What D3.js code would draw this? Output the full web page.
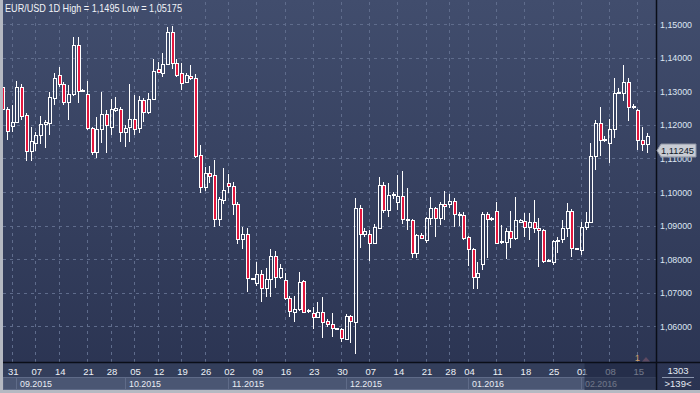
<!DOCTYPE html>
<html><head><meta charset="utf-8">
<script src="https://cdn.jsdelivr.net/npm/d3@7"></script>
<style>body{margin:0;background:#333d5a;}svg{display:block;}text{font-family:"Liberation Sans",Arial,sans-serif;}</style>
</head><body><svg id="c" width="700" height="393"></svg>
<script>
const title = "EUR/USD 1D High = 1,1495 Low = 1,05175";
const dates = ["2015-08-27","2015-08-28","2015-08-31","2015-09-01","2015-09-02","2015-09-03","2015-09-04","2015-09-07","2015-09-08","2015-09-09","2015-09-10","2015-09-11","2015-09-14","2015-09-15","2015-09-16","2015-09-17","2015-09-18","2015-09-20","2015-09-21","2015-09-22","2015-09-23","2015-09-24","2015-09-25","2015-09-28","2015-09-29","2015-09-30","2015-10-01","2015-10-02","2015-10-05","2015-10-06","2015-10-07","2015-10-08","2015-10-09","2015-10-12","2015-10-13","2015-10-14","2015-10-15","2015-10-16","2015-10-19","2015-10-20","2015-10-21","2015-10-22","2015-10-23","2015-10-26","2015-10-27","2015-10-28","2015-10-29","2015-10-30","2015-11-02","2015-11-03","2015-11-04","2015-11-05","2015-11-06","2015-11-08","2015-11-09","2015-11-10","2015-11-11","2015-11-12","2015-11-13","2015-11-15","2015-11-16","2015-11-17","2015-11-18","2015-11-19","2015-11-20","2015-11-22","2015-11-23","2015-11-24","2015-11-25","2015-11-26","2015-11-27","2015-11-29","2015-11-30","2015-12-01","2015-12-02","2015-12-03","2015-12-04","2015-12-06","2015-12-07","2015-12-08","2015-12-09","2015-12-10","2015-12-11","2015-12-13","2015-12-14","2015-12-15","2015-12-16","2015-12-17","2015-12-18","2015-12-20","2015-12-21","2015-12-22","2015-12-23","2015-12-24","2015-12-27","2015-12-28","2015-12-29","2015-12-30","2015-12-31","2016-01-04","2016-01-05","2016-01-06","2016-01-07","2016-01-08","2016-01-10","2016-01-11","2016-01-12","2016-01-13","2016-01-14","2016-01-15","2016-01-17","2016-01-18","2016-01-19","2016-01-20","2016-01-21","2016-01-22","2016-01-24","2016-01-25","2016-01-26","2016-01-27","2016-01-28","2016-01-29","2016-01-31","2016-02-01","2016-02-02","2016-02-03","2016-02-04","2016-02-05","2016-02-07","2016-02-08","2016-02-09","2016-02-10","2016-02-11","2016-02-12","2016-02-14","2016-02-15","2016-02-16","2016-02-17"];
const open = [1.13134,1.12461,1.11973,1.12092,1.13134,1.12292,1.11235,1.11473,1.11696,1.12015,1.12063,1.12789,1.13482,1.13214,1.12688,1.12917,1.14375,1.12997,1.12902,1.11896,1.112,1.11875,1.12313,1.11943,1.12432,1.12479,1.11777,1.11943,1.12164,1.11896,1.12738,1.12372,1.12759,1.13652,1.13551,1.13801,1.14753,1.13848,1.13551,1.13283,1.13461,1.13384,1.11101,1.10158,1.10557,1.10497,1.09205,1.09762,1.10259,1.10179,1.09643,1.08592,1.08741,1.07411,1.07301,1.07551,1.07134,1.07402,1.08095,1.07479,1.07381,1.06836,1.06438,1.06509,1.07351,1.06449,1.06408,1.06271,1.06438,1.06152,1.06063,1.05917,1.05914,1.05634,1.0631,1.0614,1.09515,1.0875,1.0875,1.08473,1.0892,1.10208,1.09464,1.09896,1.09711,1.09881,1.09182,1.09167,1.08176,1.08711,1.08571,1.09217,1.09515,1.09217,1.09643,1.09643,1.09741,1.09321,1.09315,1.08652,1.08295,1.07479,1.07857,1.09336,1.09196,1.09443,1.08503,1.08521,1.08839,1.08622,1.09122,1.09137,1.08967,1.09098,1.0892,1.08869,1.07946,1.07917,1.08557,1.08592,1.08938,1.09426,1.08304,1.08274,1.08949,1.09116,1.11071,1.12045,1.11533,1.11449,1.11884,1.1294,1.12937,1.13265,1.12524,1.1244,1.11548,1.1142];
const high = [1.13214,1.1253,1.12589,1.13313,1.13214,1.12351,1.11935,1.11795,1.12262,1.12143,1.12985,1.13533,1.13729,1.13274,1.13185,1.14604,1.14622,1.13051,1.13304,1.11935,1.12241,1.12985,1.1244,1.12759,1.12818,1.1253,1.11994,1.13205,1.12887,1.12857,1.12789,1.12955,1.13949,1.13878,1.14128,1.1492,1.1495,1.13958,1.13848,1.13533,1.1378,1.13512,1.11399,1.10753,1.10774,1.10952,1.0986,1.10705,1.10536,1.10289,1.09711,1.08949,1.0892,1.07455,1.07908,1.07679,1.07729,1.08295,1.08244,1.07857,1.0758,1.06905,1.06905,1.0761,1.07381,1.06527,1.06568,1.06735,1.06866,1.0622,1.0639,1.05952,1.05943,1.06369,1.06354,1.09812,1.09613,1.0892,1.08869,1.09048,1.10438,1.10307,1.10277,1.09991,1.10506,1.10625,1.1011,1.09196,1.0875,1.0878,1.09247,1.0986,1.09554,1.09711,1.1003,1.0994,1.09821,1.09414,1.09405,1.0869,1.08333,1.07917,1.09396,1.09414,1.09265,1.09711,1.09018,1.0892,1.09435,1.09842,1.09196,1.09366,1.09366,1.09762,1.09217,1.08899,1.08006,1.08571,1.08652,1.09167,1.09664,1.09485,1.08333,1.09116,1.09396,1.11449,1.12143,1.12521,1.11667,1.12164,1.13384,1.13104,1.1378,1.13384,1.1261,1.1247,1.11926,1.11747];
const low = [1.12381,1.11548,1.11795,1.12054,1.12143,1.10923,1.10923,1.11229,1.1142,1.11301,1.11696,1.12589,1.13134,1.12589,1.12143,1.12857,1.1264,1.12991,1.11845,1.11101,1.11003,1.11449,1.11152,1.11696,1.12381,1.11497,1.1133,1.11497,1.11696,1.11747,1.12092,1.12321,1.12738,1.13551,1.13432,1.1378,1.13652,1.13432,1.13036,1.13235,1.13333,1.11003,1.09961,1.10039,1.10277,1.08949,1.08988,1.09643,1.09979,1.09315,1.08452,1.08295,1.07033,1.07396,1.07202,1.06735,1.06884,1.06884,1.07134,1.07411,1.06786,1.06289,1.0614,1.06458,1.0639,1.06408,1.05914,1.0625,1.05646,1.05991,1.05676,1.05908,1.05545,1.05595,1.05497,1.05175,1.08342,1.0867,1.07955,1.08452,1.08899,1.09375,1.09247,1.09783,1.09464,1.09048,1.08869,1.08027,1.08027,1.08601,1.08473,1.09018,1.0867,1.09018,1.09167,1.09524,1.08967,1.08988,1.08571,1.07798,1.07104,1.07104,1.07679,1.08036,1.09137,1.08482,1.08467,1.08006,1.08324,1.08571,1.09077,1.0867,1.08571,1.08771,1.07777,1.07878,1.07902,1.07827,1.08176,1.08491,1.0867,1.08074,1.08274,1.08125,1.08869,1.09092,1.10655,1.11071,1.11488,1.10854,1.11598,1.12917,1.12717,1.12122,1.12461,1.1125,1.11229,1.1117];
const close = [1.12461,1.11824,1.12092,1.13134,1.12262,1.1122,1.11518,1.11696,1.12015,1.12074,1.12818,1.13384,1.13214,1.12688,1.12917,1.14375,1.13015,1.13045,1.11896,1.112,1.11875,1.12313,1.11994,1.12461,1.12491,1.11795,1.11896,1.12164,1.11866,1.12738,1.12372,1.12759,1.13601,1.1358,1.13801,1.14753,1.13848,1.13482,1.13253,1.13482,1.13384,1.11071,1.1014,1.10557,1.10485,1.09205,1.09783,1.1006,1.10179,1.09634,1.08592,1.08741,1.07432,1.0744,1.07551,1.07134,1.07402,1.08095,1.07479,1.07729,1.06836,1.06467,1.06509,1.07313,1.06438,1.06479,1.06271,1.06438,1.0614,1.06063,1.05943,1.05946,1.0564,1.06295,1.06161,1.09515,1.0875,1.08839,1.08473,1.08958,1.10208,1.09464,1.09911,1.09926,1.09881,1.09188,1.09152,1.08176,1.08711,1.0864,1.09217,1.09515,1.09217,1.09643,1.09583,1.09732,1.09336,1.09351,1.08622,1.08295,1.07479,1.07598,1.09336,1.09188,1.09217,1.08491,1.08542,1.08839,1.08622,1.09167,1.09152,1.08967,1.09098,1.0892,1.0886,1.07955,1.07967,1.08542,1.08586,1.08938,1.09426,1.08324,1.08324,1.08949,1.09116,1.11071,1.12045,1.11548,1.11563,1.11884,1.12955,1.1297,1.13265,1.12539,1.12554,1.11548,1.11429,1.11667];
const yTicks = [1.06,1.07,1.08,1.09,1.10,1.11,1.12,1.13,1.14,1.15];
const lastPrice = 1.11245;
const barsInfo = ["1303", ">139<"];
const markerLabel = "1";

const W = 700, H = 393, plotL = 3, plotR = 656, plotB = 362;
const svg = d3.select("#c");
const defs = svg.append("defs");
const g1 = defs.append("linearGradient").attr("id","bg").attr("gradientUnits","userSpaceOnUse")
  .attr("x1",0).attr("y1",0).attr("x2",0).attr("y2",H);
g1.append("stop").attr("offset",0).attr("stop-color","#414d6d");
g1.append("stop").attr("offset",1).attr("stop-color","#2a3351");

svg.append("rect").attr("width",W).attr("height",H).attr("fill","url(#bg)");

const x = d3.scaleBand().domain(dates).range([1, 650]).padding(0);
const cx = d => Math.round(x(d) + x.bandwidth()/2);
const y = d3.scaleLinear().domain([1.05, 1.15]).range([360, 24]);

const parse = d3.timeParse("%Y-%m-%d");
const mondays = dates.filter(d => parse(d).getDay() === 1);

// grid
const grid = svg.append("g").attr("stroke","#5f6c8c").attr("stroke-width",1).attr("stroke-dasharray","3,4");
grid.selectAll("line.h").data(yTicks).join("line").attr("class","h")
  .attr("x1",plotL).attr("x2",plotR)
  .attr("y1",d=>Math.round(y(d))+0.5).attr("y2",d=>Math.round(y(d))+0.5);
grid.selectAll("line.v").data(mondays).join("line").attr("class","v")
  .attr("x1",d=>cx(d)-0.5).attr("x2",d=>cx(d)-0.5).attr("y1",2).attr("y2",plotB);

// candles
const bars = dates.map((d,i)=>({d, o:open[i], h:high[i], l:low[i], c:close[i]}));
const cg = svg.append("g");
bars.forEach(b => {
  const xc = cx(b.d);
  const top = Math.round(y(Math.max(b.o,b.c)));
  const bot = Math.max(top+1, Math.round(y(Math.min(b.o,b.c))));
  const yh = Math.round(y(b.h)), yl = Math.round(y(b.l));
  const up = b.c >= b.o;
  if (yh < top) cg.append("line").attr("x1",xc-0.5).attr("x2",xc-0.5).attr("y1",yh).attr("y2",top).attr("stroke","#ffffff");
  if (yl > bot) cg.append("line").attr("x1",xc-0.5).attr("x2",xc-0.5).attr("y1",bot).attr("y2",yl).attr("stroke","#ffffff");
  cg.append("rect").attr("x",xc-1.5).attr("y",top+0.5).attr("width",3).attr("height",bot-top)
    .attr("fill", up ? "none" : "#e3173e").attr("stroke","#ffffff").attr("stroke-width",1);
});

// title
svg.append("text").attr("x",5).attr("y",12).attr("fill","#f2f4f8").attr("font-size",11)
  .attr("textLength",177).attr("lengthAdjust","spacingAndGlyphs").text(title);

// bottom area
const bottom = svg.append("g");
bottom.append("rect").attr("x",0).attr("y",plotB).attr("width",plotR).attr("height",H-plotB).attr("fill","#333e5b");
const monthKeys = Array.from(new Set(dates.map(d=>d.slice(0,7))));
const sepX = d => cx(d) - 0.5;
monthKeys.forEach((m,k) => {
  const first = dates.find(d=>d.startsWith(m));
  const x0 = k===0 ? plotL : sepX(first);
  const nxt = monthKeys[k+1] ? sepX(dates.find(d=>d.startsWith(monthKeys[k+1]))) : plotR;
  bottom.append("rect").attr("x",x0).attr("y",377.5).attr("width",nxt-x0).attr("height",12)
    .attr("fill","#4a5673").attr("stroke","#5f6b88").attr("stroke-width",1);
  if (nxt - x0 > 40) {
    bottom.append("text").attr("x",x0+3.5).attr("y",386.5).attr("font-size",9.5).attr("fill","#e9edf3")
      .attr("textLength",32).attr("lengthAdjust","spacingAndGlyphs")
      .text(m.slice(5,7)+"."+m.slice(0,4));
  }
});

// day axis
const xAxis = d3.axisBottom(x).tickValues(mondays).tickSize(0).tickPadding(6)
  .tickFormat(d => d.slice(8,10));
const xa = svg.append("g").attr("transform",`translate(0,${plotB})`).call(xAxis);
xa.select(".domain").remove();
xa.selectAll("text").attr("font-size",9.5).attr("fill","#eef1f6").attr("font-family","Liberation Sans, Arial, sans-serif")
  .attr("dx","0.5");

// dark overlay for current month region
const febFirst = dates.find(d=>d.startsWith("2016-02"));
svg.append("rect").attr("x",sepX(febFirst)+3).attr("y",plotB+1).attr("width",plotR-sepX(febFirst)-3).attr("height",H-plotB-4)
  .attr("fill","#1c2540").attr("opacity",0.6);

// right axis
const yAxis = d3.axisRight(y).tickValues(yTicks).tickSize(0).tickPadding(4)
  .tickFormat(d => d.toFixed(5).replace(".",","));
const ya = svg.append("g").attr("transform",`translate(${plotR},0)`).call(yAxis);
ya.select(".domain").remove();
ya.selectAll("text").attr("font-size",9.5).attr("fill","#dde6f2").attr("font-family","Liberation Sans, Arial, sans-serif")
  .attr("textLength",32).attr("lengthAdjust","spacingAndGlyphs");

// separators
svg.append("line").attr("x1",plotR+0.5).attr("x2",plotR+0.5).attr("y1",0).attr("y2",H).attr("stroke","#0a0e18").attr("stroke-width",1.5);
svg.append("line").attr("x1",0).attr("x2",W).attr("y1",plotB+0.5).attr("y2",plotB+0.5).attr("stroke","#0a0e18").attr("stroke-width",1.5);

// marker "1"
svg.append("text").attr("x",637.5).attr("y",361).attr("font-size",9.5).attr("fill","#cfa26c").attr("text-anchor","middle").text(markerLabel);
svg.append("path").attr("d","M642,361.5 L646,357 L650,361.5 Z").attr("fill","#5e4a62");

// price tag
const yp = Math.round(y(lastPrice))+0.5;
svg.append("path").attr("d",`M${plotR+1},${yp} L${plotR+5},${yp-6.5} L696,${yp-6.5} L696,${yp+6.5} L${plotR+5},${yp+6.5} Z`)
  .attr("fill","#c8ccd4").attr("stroke","#8d93a3").attr("stroke-width",1);
svg.append("text").attr("x",661).attr("y",yp+3.5).attr("font-size",9.5).attr("fill","#121a2a")
  .attr("textLength",33).attr("lengthAdjust","spacingAndGlyphs").text(lastPrice.toFixed(5).replace(".",","));

// bars info
svg.append("text").attr("x",678).attr("y",374).attr("font-size",9.5).attr("fill","#e6ebf3").attr("text-anchor","middle").text(barsInfo[0]);
svg.append("line").attr("x1",662).attr("x2",694).attr("y1",377.5).attr("y2",377.5).attr("stroke","#8a95ad");
svg.append("text").attr("x",678).attr("y",387).attr("font-size",9.5).attr("fill","#e6ebf3").attr("text-anchor","middle").text(barsInfo[1]);

// frame
svg.append("rect").attr("x",0).attr("y",0).attr("width",3).attr("height",H).attr("fill","#b5b9c2");
svg.append("rect").attr("x",0).attr("y",H-3).attr("width",W).attr("height",3).attr("fill","#b5b9c2");
</script></body></html>
